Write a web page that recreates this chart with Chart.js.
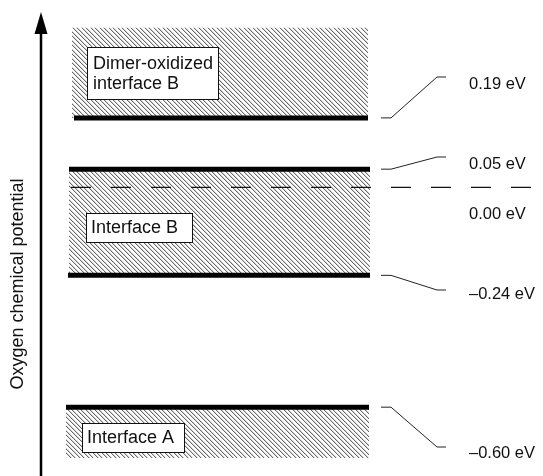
<!DOCTYPE html>
<html>
<head>
<meta charset="utf-8">
<title>Oxygen chemical potential</title>
<script src="https://cdn.jsdelivr.net/npm/chart.js@4.4.1/dist/chart.umd.min.js"></script>
<style>
  html, body { margin: 0; padding: 0; background: #fff; }
  #chart { display: block; }
</style>
</head>
<body>
<canvas id="chart" width="543" height="476"></canvas>
<script>
// Energy levels (eV), top to bottom
const levels = [0.19, 0.05, -0.24, -0.60];
const referenceLevel = 0.00;
// values written in the right-hand column
const tickValues = [0.19, 0.05, 0.00, -0.24, -0.60];

// hatched stability regions (eV)
const regionNames = [['Dimer-oxidized', 'interface B'], ['Interface B'], ['Interface A']];
const regionUpper = [0.436, 0.05, -0.60];
const regionLower = [0.19, -0.24, -0.739];

const axisTitle = 'Oxygen chemical potential';

// Drawing layout (pixels)
const layout = {
    yMin: -0.788,
    yMax: 0.512,
    levelX: [[74, 368], [69, 370], [68, 370], [66, 369]],
    regionX: [[72, 368], [69, 370], [66, 369]],
    zeroX: [71, 543],
    connX: [381, 391, 437, 446],
    connEndY: [77, 157, 290, 447],
    labelX: 469,
    labelY: [84, 164, 214, 294, 453],
    boxes: [
        { x: 87, y: 47, w: 131, h: 52, tx: 93, ty: [64, 84] },
        { x: 86, y: 213, w: 106, h: 29, tx: 91, ty: [228] },
        { x: 82, y: 423, w: 102, h: 29, tx: 87, ty: [438] }
    ],
    arrowX: 41
};

const FONT = '"Liberation Sans", Arial, Helvetica, sans-serif';

// pixel-crisp diagonal hatch, lines running down to the right
function makeHatch() {
    const size = 9;
    const c = document.createElement('canvas');
    c.width = size;
    c.height = size;
    const g = c.getContext('2d');
    for (let y = 0; y < size; y++) {
        for (let x = 0; x < size; x++) {
            const d = ((x - y) % size + size) % size;
            if (d === 0 || d === 4) {
                g.fillStyle = '#6a6a6a';
                g.fillRect(x, y, 1, 1);
            } else if (d === 1 || d === 5) {
                g.fillStyle = '#d4d4d4';
                g.fillRect(x, y, 1, 1);
            }
        }
    }
    return g.createPattern(c, 'repeat');
}

function formatLevel(v) {
    return (v < 0 ? '\u2013' : '') + Math.abs(v).toFixed(2) + ' eV';
}

const hatch = makeHatch();
const datasets = [];

// hatched regions
regionUpper.forEach((top, i) => {
    datasets.push({
        data: [{ x: layout.regionX[i][0], y: top }, { x: layout.regionX[i][1], y: top }],
        borderColor: 'rgba(0,0,0,0)',
        borderWidth: 1,
        backgroundColor: hatch,
        pointRadius: 0,
        fill: { value: regionLower[i] },
        order: 3
    });
});

// zero reference, dashed
datasets.push({
    data: [{ x: layout.zeroX[0], y: referenceLevel }, { x: layout.zeroX[1], y: referenceLevel }],
    borderColor: '#111',
    borderWidth: 1.2,
    borderDash: [20, 20],
    pointRadius: 0,
    fill: false,
    order: 2
});

// thick level lines
levels.forEach((v, i) => {
    datasets.push({
        data: [{ x: layout.levelX[i][0], y: v }, { x: layout.levelX[i][1], y: v }],
        borderColor: '#000',
        borderWidth: 5,
        borderCapStyle: 'butt',
        pointRadius: 0,
        fill: false,
        order: 1
    });
});

const annotations = {
    id: 'annotations',
    afterDatasetsDraw(chart) {
        const ctx = chart.ctx;
        const yScale = chart.scales.y;
        ctx.save();

        // connectors from the levels to the value column
        ctx.strokeStyle = '#222';
        ctx.lineWidth = 1;
        levels.forEach((v, i) => {
            const y0 = yScale.getPixelForValue(v);
            const y1 = layout.connEndY[i];
            const cx = layout.connX;
            ctx.beginPath();
            ctx.moveTo(cx[0], y0);
            ctx.lineTo(cx[1], y0);
            ctx.lineTo(cx[2], y1);
            ctx.lineTo(cx[3], y1);
            ctx.stroke();
        });

        // value labels
        ctx.fillStyle = '#111';
        ctx.font = '16.5px ' + FONT;
        ctx.textBaseline = 'middle';
        ctx.textAlign = 'left';
        tickValues.forEach((v, i) => {
            ctx.fillText(formatLevel(v), layout.labelX, layout.labelY[i]);
        });

        // region name boxes
        ctx.font = '18px ' + FONT;
        regionNames.forEach((lines, i) => {
            const b = layout.boxes[i];
            ctx.fillStyle = '#fff';
            ctx.fillRect(b.x, b.y, b.w, b.h);
            ctx.strokeStyle = '#111';
            ctx.lineWidth = 1;
            ctx.strokeRect(b.x + 0.5, b.y + 0.5, b.w, b.h);
            ctx.fillStyle = '#111';
            lines.forEach((t, j) => ctx.fillText(t, b.tx, b.ty[j]));
        });

        // vertical arrow
        const ax = layout.arrowX;
        ctx.strokeStyle = '#000';
        ctx.lineWidth = 2.5;
        ctx.beginPath();
        ctx.moveTo(ax, chart.height);
        ctx.lineTo(ax, 30);
        ctx.stroke();
        ctx.fillStyle = '#000';
        ctx.beginPath();
        ctx.moveTo(ax, 12);
        ctx.lineTo(ax + 6.5, 34);
        ctx.lineTo(ax - 6.5, 34);
        ctx.closePath();
        ctx.fill();

        // axis title
        ctx.translate(18, 284);
        ctx.rotate(-Math.PI / 2);
        ctx.textAlign = 'center';
        ctx.fillStyle = '#111';
        ctx.font = '18px ' + FONT;
        ctx.fillText(axisTitle, 0, 0);

        ctx.restore();
    }
};

new Chart(document.getElementById('chart'), {
    type: 'line',
    data: { datasets: datasets },
    options: {
        responsive: false,
        animation: false,
        devicePixelRatio: 1,
        layout: { padding: 0 },
        plugins: {
            legend: { display: false },
            tooltip: { enabled: false }
        },
        scales: {
            x: { type: 'linear', display: false, min: 0, max: 543 },
            y: { type: 'linear', display: false, min: layout.yMin, max: layout.yMax }
        }
    },
    plugins: [annotations]
});
</script>
</body>
</html>
